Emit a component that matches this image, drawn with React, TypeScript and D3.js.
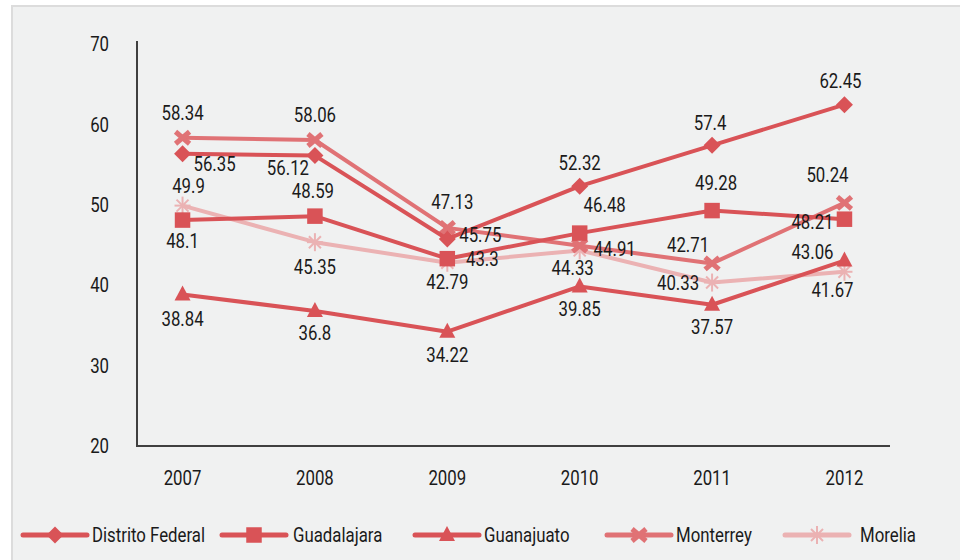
import React from 'react';
import * as d3 from 'd3';

const years = ['2007', '2008', '2009', '2010', '2011', '2012'];
const seriesNames = ['Distrito Federal', 'Guadalajara', 'Guanajuato', 'Monterrey', 'Morelia'];
const distritoFederal = [56.35, 56.12, 45.75, 52.32, 57.4, 62.45];
const guadalajara = [48.1, 48.59, 43.3, 46.48, 49.28, 48.21];
const guanajuato = [38.84, 36.8, 34.22, 39.85, 37.57, 43.06];
const monterrey = [58.34, 58.06, 47.13, 44.91, 42.71, 50.24];
const morelia = [49.9, 45.35, 42.79, 44.33, 40.33, 41.67];
const yTicks = [20, 30, 40, 50, 60, 70];

// label offsets (dx, dy) relative to each point
const dfLabelOffsets = [[32, 10], [-27, 12], [33, -4], [0, -23], [-2, -22], [-4, -24]];
const gdlLabelOffsets = [[0, 21], [-2, -25], [35, 0], [25, -28], [4, -28], [-32, 3]];
const gtoLabelOffsets = [[0, 24], [0, 22], [0, 23], [0, 22], [0, 22], [-32, -9]];
const mtyLabelOffsets = [[0, -25], [0, -25], [5, -26], [35, 3], [-24, -19], [-17, -28]];
const morLabelOffsets = [[6, -20], [0, 25], [0, 19], [-7, 17], [-34, 0], [-12, 18]];

const seriesValues = [distritoFederal, guadalajara, guanajuato, monterrey, morelia];
const seriesOffsets = [dfLabelOffsets, gdlLabelOffsets, gtoLabelOffsets, mtyLabelOffsets, morLabelOffsets];
const seriesColors = ['#d95357', '#d95357', '#d95357', '#e07275', '#ebb2b3'];
const seriesShapes = ['diamond', 'square', 'triangle', 'x', 'star'];
const legendX = [23, 222, 415, 607, 785];
const legendTextGap = [5, 7, 5, 5, 11];

const FONT = "Roboto, 'Liberation Sans', sans-serif";
const FS = 21;
const SX = 0.8;

function T({ x, y, anchor = 'middle', children }: { x: number; y: number; anchor?: string; children: React.ReactNode }) {
  return (
    <text
      transform={`translate(${x},${y}) scale(${SX},1)`}
      textAnchor={anchor}
      dominantBaseline="central"
      fontSize={FS}
      fill="#1a1a1a"
    >
      {children}
    </text>
  );
}

function Marker({ shape, cx, cy, color }: { shape: string; cx: number; cy: number; color: string }) {
  if (shape === 'diamond') {
    const r = 8.5;
    return <polygon points={`${cx},${cy - r} ${cx + r},${cy} ${cx},${cy + r} ${cx - r},${cy}`} fill={color} />;
  }
  if (shape === 'square') {
    const s = 15.5;
    return <rect x={cx - s / 2} y={cy - s / 2} width={s} height={s} fill={color} />;
  }
  if (shape === 'triangle') {
    return <polygon points={`${cx},${cy - 9} ${cx + 8},${cy + 6} ${cx - 8},${cy + 6}`} fill={color} />;
  }
  if (shape === 'x') {
    return (
      <g stroke={color} strokeWidth={5}>
        <line x1={cx - 7} y1={cy - 6} x2={cx + 7} y2={cy + 6} />
        <line x1={cx - 7} y1={cy + 6} x2={cx + 7} y2={cy - 6} />
      </g>
    );
  }
  return (
    <g stroke={color} strokeWidth={2}>
      <line x1={cx} y1={cy - 9} x2={cx} y2={cy + 9} />
      <line x1={cx - 8} y1={cy} x2={cx + 8} y2={cy} />
      <line x1={cx - 6} y1={cy - 6} x2={cx + 6} y2={cy + 6} />
      <line x1={cx - 6} y1={cy + 6} x2={cx + 6} y2={cy - 6} />
    </g>
  );
}

export default function App() {
  const width = 960;
  const height = 560;
  const x = d3.scalePoint<string>().domain(years).range([137, 890]).padding(0.344);
  const y = d3.scaleLinear().domain([20, 70]).range([446, 44]);
  const line = d3
    .line<number>()
    .x((_, i) => x(years[i]) as number)
    .y((d) => y(d));

  const order = [4, 3, 2, 1, 0];

  return (
    <svg
      width={width}
      height={height}
      style={{ position: 'absolute', left: 0, top: 0, background: '#ffffff' }}
      fontFamily={FONT}
    >
      <rect x={12} y={6} width={width} height={height} fill="#f0f1f1" stroke="#dcdcdc" strokeWidth={2} />

      <line x1={137} y1={y(70) - 3} x2={137} y2={y(20)} stroke="#404040" strokeWidth={2} />
      <line x1={136} y1={y(20)} x2={890} y2={y(20)} stroke="#404040" strokeWidth={2} />
      {yTicks.map((t) => (
        <T key={t} x={109} y={y(t)} anchor="end">
          {t}
        </T>
      ))}
      {years.map((yr) => (
        <T key={yr} x={x(yr) as number} y={478}>
          {yr}
        </T>
      ))}

      {order.map((si) => (
        <g key={seriesNames[si]}>
          <path d={line(seriesValues[si]) || ''} fill="none" stroke={seriesColors[si]} strokeWidth={4} strokeLinejoin="round" />
          {seriesValues[si].map((v, i) => (
            <Marker key={i} shape={seriesShapes[si]} cx={x(years[i]) as number} cy={y(v)} color={seriesColors[si]} />
          ))}
        </g>
      ))}

      {seriesValues.map((vals, si) =>
        vals.map((v, i) => (
          <T
            key={`${si}-${i}`}
            x={(x(years[i]) as number) + seriesOffsets[si][i][0]}
            y={y(v) + seriesOffsets[si][i][1]}
          >
            {v}
          </T>
        ))
      )}

      {seriesNames.map((name, si) => {
        const lx = legendX[si];
        const ly = 535;
        return (
          <g key={name}>
            <line x1={lx} y1={ly} x2={lx + 64} y2={ly} stroke={seriesColors[si]} strokeWidth={5} strokeLinecap="round" />
            <Marker shape={seriesShapes[si]} cx={lx + 32} cy={ly} color={seriesColors[si]} />
            <T x={lx + 64 + legendTextGap[si]} y={ly} anchor="start">
              {name}
            </T>
          </g>
        );
      })}
    </svg>
  );
}
